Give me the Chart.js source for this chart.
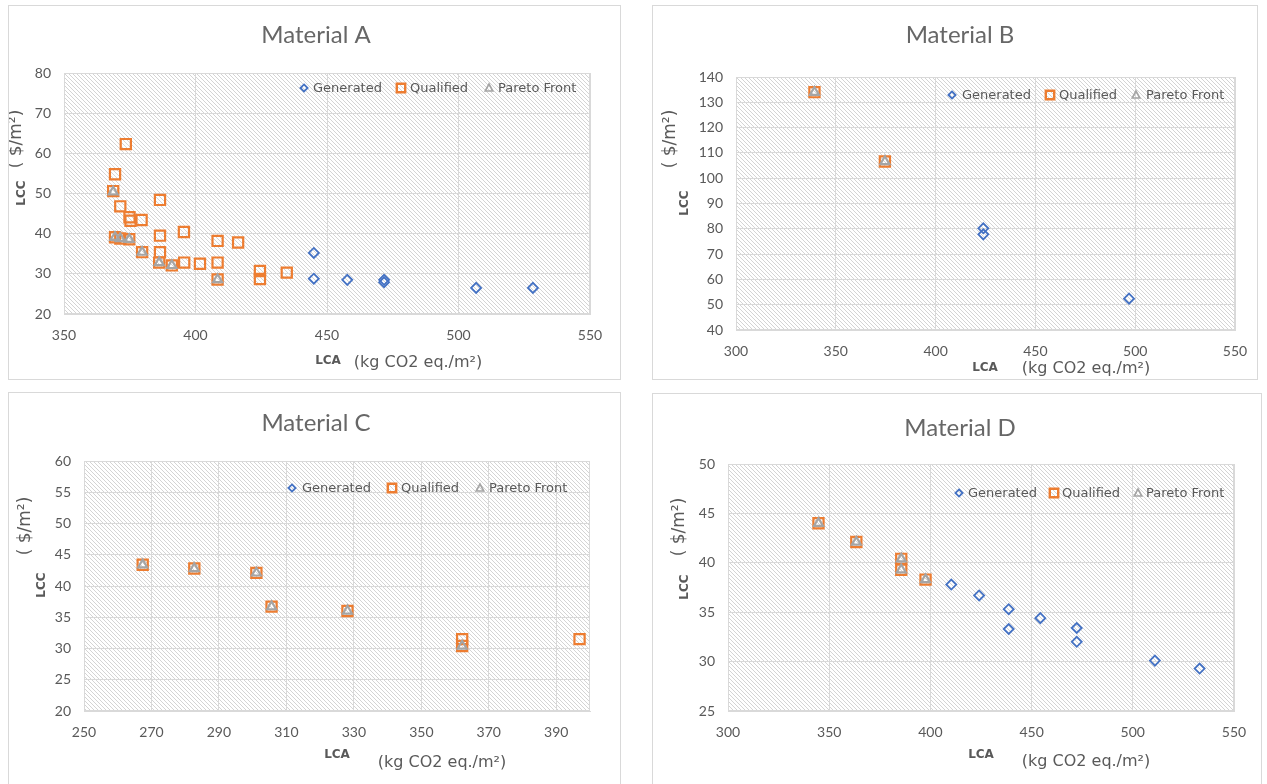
<!DOCTYPE html>
<html><head><meta charset="utf-8">
<script src="https://cdn.jsdelivr.net/npm/chart.js@4.4.1/dist/chart.umd.min.js"></script>
<style>
html,body{margin:0;padding:0;background:#fff;width:1267px;height:784px;overflow:hidden;}
.cv{position:absolute;}
.frame{position:absolute;border:1px solid #d9d9d9;box-sizing:border-box;pointer-events:none;}
</style></head><body>
<script>
// ---------- DATA ----------
// Material A
const aGenX = [445, 445, 457.7, 471.7, 471.7, 506.7, 528.3];
const aGenY = [35.2, 28.8, 28.5, 28.5, 27.9, 26.5, 26.5];
const aQualX = [373.5, 369.4, 368.7, 371.4, 374.9, 375.3, 379.5, 386.5, 369.4, 371.4, 374.8, 386.5, 395.6, 408.4, 416.2, 379.7, 386.5, 386.2, 391, 395.7, 401.7, 408.4, 408.4, 424.5, 424.5, 434.7];
const aQualY = [62.3, 54.8, 50.6, 46.8, 44.1, 43.2, 43.4, 48.4, 39.1, 38.8, 38.6, 39.5, 40.4, 38.2, 37.8, 35.4, 35.4, 32.8, 32.1, 32.8, 32.5, 32.8, 28.6, 30.7, 28.7, 30.3];
const aParX = [368.7, 369.4, 371.4, 374.8, 379.7, 386.2, 391, 408.4];
const aParY = [50.4, 39.1, 38.8, 38.6, 35.4, 32.8, 32.1, 28.6];
const aXTicks = [350, 400, 450, 500, 550];
const aYTicks = [20, 30, 40, 50, 60, 70, 80];
// Material B
const bGenX = [423.9, 423.9, 496.9];
const bGenY = [80.2, 77.8, 52.4];
const bQualX = [339.3, 374.6];
const bQualY = [134.0, 106.6];
const bParX = [339.3, 374.6];
const bParY = [134.0, 106.6];
const bXTicks = [300, 350, 400, 450, 500, 550];
const bYTicks = [40, 50, 60, 70, 80, 90, 100, 110, 120, 130, 140];
// Material C
const cGenX = [];
const cGenY = [];
const cQualX = [267.4, 282.7, 301.1, 305.6, 328.1, 362.1, 362.1, 396.9];
const cQualY = [43.4, 42.8, 42.1, 36.7, 36.0, 31.5, 30.4, 31.5];
const cParX = [267.4, 282.7, 301.1, 305.6, 328.1, 362.1];
const cParY = [43.4, 42.8, 42.1, 36.7, 36.0, 30.4];
const cXTicks = [250, 270, 290, 310, 330, 350, 370, 390];
const cYTicks = [20, 25, 30, 35, 40, 45, 50, 55, 60];
// Material D
const dGenX = [410.3, 424.1, 438.7, 438.7, 454.3, 472.3, 472.3, 510.9, 533.0];
const dGenY = [37.8, 36.7, 35.3, 33.3, 34.4, 33.4, 32.0, 30.1, 29.3];
const dQualX = [344.7, 363.4, 385.6, 385.6, 397.6];
const dQualY = [44.0, 42.1, 40.4, 39.3, 38.3];
const dParX = [344.7, 363.4, 385.6, 385.6, 397.6];
const dParY = [44.0, 42.1, 40.4, 39.3, 38.3];
const dXTicks = [300, 350, 400, 450, 500, 550];
const dYTicks = [25, 30, 35, 40, 45, 50];

const seriesNames = ['Generated', 'Qualified', 'Pareto Front'];
const titles = ['Material A', 'Material B', 'Material C', 'Material D'];
const xName = 'LCA', xUnit = '(kg CO2 eq./m\u00B2)';
const yName = 'LCC', yUnit = '( $/m\u00B2)';

// ---------- STYLE / LAYOUT ----------
const COL_GEN = '#4472c4', COL_QUAL = '#ed7d31', COL_PAR = '#a5a5a5';
const TXT = '#595959';
const YW = 40, XH = 30;

const hatchCanvas = document.createElement('canvas');
hatchCanvas.width = 4; hatchCanvas.height = 4;
(function(){
  const h = hatchCanvas.getContext('2d');
  h.fillStyle = '#ffffff'; h.fillRect(0,0,4,4);
  h.fillStyle = '#d4d4d4';
  for (let i = 0; i < 4; i++) h.fillRect(i, i, 1, 1);
})();

function zip(xs, ys){ return xs.map((x,i)=>({x:x, y:ys[i]})); }

function marker(ctx, style, x, y, color){
  ctx.save();
  ctx.strokeStyle = color; ctx.beginPath();
  if (style === 'diamond'){
    ctx.lineWidth = 1.8; const r = 3.6;
    ctx.moveTo(x, y-r); ctx.lineTo(x+r, y); ctx.lineTo(x, y+r); ctx.lineTo(x-r, y); ctx.closePath();
  } else if (style === 'square'){
    ctx.lineWidth = 2.4; const r = 4.2;
    ctx.rect(x-r, y-r, 2*r, 2*r);
  } else {
    ctx.lineWidth = 1.6; const r = 4;
    ctx.moveTo(x, y-r); ctx.lineTo(x+r*0.95, y+r*0.75); ctx.lineTo(x-r*0.95, y+r*0.75); ctx.closePath();
  }
  ctx.stroke();
  ctx.restore();
}

const decor = {
  id: 'decor',
  beforeDraw(chart){
    const ctx = chart.ctx, a = chart.chartArea;
    ctx.save();
    ctx.fillStyle = ctx.createPattern(hatchCanvas, 'repeat');
    ctx.fillRect(a.left, a.top, a.right - a.left, a.bottom - a.top);
    ctx.restore();
  },
  beforeDatasetsDraw(chart){
    const ctx = chart.ctx, a = chart.chartArea;
    ctx.save();
    ctx.strokeStyle = '#d9d9d9'; ctx.lineWidth = 1;
    ctx.strokeRect(Math.round(a.left)+0.5, Math.round(a.top)+0.5, Math.round(a.right-a.left)-1, Math.round(a.bottom-a.top)-1);
    ctx.restore();
  },
  afterDraw(chart){
    const p = chart.options.plugins.decor;
    const ctx = chart.ctx, ox = p.box.x, oy = p.box.y;
    ctx.save();
    // title
    ctx.fillStyle = '#676767';
    ctx.font = '24px Lato';
    ctx.textAlign = 'center'; ctx.textBaseline = 'middle';
    ctx.fillText(p.title, p.titlePos[0]-ox, p.titlePos[1]-oy);
    // x axis title
    ctx.fillStyle = TXT;
    ctx.font = 'bold 12px "DejaVu Sans"';
    ctx.fillText(xName, p.lca[0]-ox, p.lca[1]-oy);
    ctx.font = '16px "DejaVu Sans"';
    ctx.fillText(xUnit, p.lcaU[0]-ox, p.lcaU[1]-oy);
    // y axis title (rotated)
    ctx.save();
    ctx.translate(p.lcc[0]-ox, p.lcc[1]-oy); ctx.rotate(-Math.PI/2);
    ctx.font = 'bold 12px "DejaVu Sans"';
    ctx.fillText(yName, 0, 0);
    ctx.restore();
    ctx.save();
    ctx.translate(p.lccU[0]-ox, p.lccU[1]-oy); ctx.rotate(-Math.PI/2);
    ctx.font = '17px "DejaVu Sans"';
    ctx.fillText(yUnit, 0, 0);
    ctx.restore();
    // legend
    const styles = ['diamond', 'square', 'triangle'];
    const cols = [COL_GEN, COL_QUAL, COL_PAR];
    ctx.font = '13px "DejaVu Sans"';
    ctx.textAlign = 'left';
    for (let i = 0; i < 3; i++){
      const it = p.legend[i];
      marker(ctx, styles[i], it[0]-ox, p.legendY-oy, cols[i]);
      ctx.fillStyle = TXT;
      ctx.fillText(seriesNames[i], it[1]-ox, p.legendY+1-oy);
    }
    ctx.restore();
  }
};

function makeChart(p){
  const cv = document.createElement('canvas');
  cv.className = 'cv';
  cv.width = p.box.w; cv.height = p.box.h;
  cv.style.left = p.box.x + 'px'; cv.style.top = p.box.y + 'px';
  cv.style.width = p.box.w + 'px'; cv.style.height = p.box.h + 'px';
  document.body.appendChild(cv);
  const fr = document.createElement('div');
  fr.className = 'frame';
  fr.style.left = p.box.x + 'px'; fr.style.top = p.box.y + 'px';
  fr.style.width = p.box.w + 'px'; fr.style.height = p.box.h + 'px';
  document.body.appendChild(fr);

  const pad = {
    left: p.plot.l - p.box.x - YW,
    top: p.plot.t - p.box.y,
    right: p.box.x + p.box.w - p.plot.r,
    bottom: p.box.y + p.box.h - p.plot.b - XH
  };
  const tickFont = {family: 'Lato', size: 14};
  new Chart(cv, {
    type: 'scatter',
    data: { datasets: [
      {label: seriesNames[2], data: zip(p.parX, p.parY), pointStyle: 'triangle', pointRadius: 5.2,
       borderColor: COL_PAR, backgroundColor: 'rgba(255,255,255,0)', borderWidth: 2.2, order: 1},
      {label: seriesNames[1], data: zip(p.qualX, p.qualY), pointStyle: 'rect', pointRadius: 7.2,
       borderColor: COL_QUAL, backgroundColor: 'rgba(255,255,255,0)', borderWidth: 2.2, order: 2},
      {label: seriesNames[0], data: zip(p.genX, p.genY), pointStyle: 'rectRot', pointRadius: 5,
       borderColor: COL_GEN, backgroundColor: 'rgba(255,255,255,0)', borderWidth: 1.8, order: 3}
    ]},
    options: {
      responsive: false, animation: false, devicePixelRatio: 1, events: [],
      layout: {padding: pad},
      plugins: {legend: {display: false}, tooltip: {enabled: false}, title: {display: false}, decor: p},
      scales: {
        x: {
          type: 'linear', min: p.xMin, max: p.xMax,
          afterBuildTicks: s => { s.ticks = p.xTicks.map(v => ({value: v})); },
          afterFit: s => { s.height = XH; s.paddingLeft = 0; s.paddingRight = 0; },
          grid: {color: '#d9d9d9', lineWidth: 1, drawTicks: false},
          border: {display: true, color: '#d9d9d9'},
          ticks: {padding: 13, font: tickFont, color: TXT, maxRotation: 0, autoSkip: false}
        },
        y: {
          type: 'linear', min: p.yMin, max: p.yMax,
          afterBuildTicks: s => { s.ticks = p.yTicks.map(v => ({value: v})); },
          afterFit: s => { s.width = YW; s.paddingTop = 0; s.paddingBottom = 0; },
          grid: {color: '#d9d9d9', lineWidth: 1, drawTicks: false},
          border: {display: true, color: '#d9d9d9'},
          ticks: {padding: 13, font: tickFont, color: TXT, autoSkip: false}
        }
      }
    },
    plugins: [decor]
  });
}

const panels = [
  {title: titles[0], box: {x: 8, y: 5, w: 613, h: 375}, plot: {l: 64, t: 73, r: 590, b: 314},
   xMin: 350, xMax: 550, yMin: 20, yMax: 80, xTicks: aXTicks, yTicks: aYTicks,
   genX: aGenX, genY: aGenY, qualX: aQualX, qualY: aQualY, parX: aParX, parY: aParY,
   titlePos: [316, 35], legendY: 88, legend: [[304, 313], [401, 410], [489, 498]],
   lcc: [22, 193], lccU: [17, 139], lca: [328, 361], lcaU: [418, 363]},
  {title: titles[1], box: {x: 652, y: 5, w: 606, h: 375}, plot: {l: 736, t: 77, r: 1235, b: 330},
   xMin: 300, xMax: 550, yMin: 40, yMax: 140, xTicks: bXTicks, yTicks: bYTicks,
   genX: bGenX, genY: bGenY, qualX: bQualX, qualY: bQualY, parX: bParX, parY: bParY,
   titlePos: [960, 35], legendY: 95, legend: [[952, 962], [1050, 1059], [1136, 1146]],
   lcc: [685, 203], lccU: [671, 139], lca: [985, 368], lcaU: [1086, 369]},
  {title: titles[2], box: {x: 8, y: 392, w: 613, h: 400}, plot: {l: 84, t: 461, r: 590, b: 711},
   xMin: 250, xMax: 400, yMin: 20, yMax: 60, xTicks: cXTicks, yTicks: cYTicks,
   genX: cGenX, genY: cGenY, qualX: cQualX, qualY: cQualY, parX: cParX, parY: cParY,
   titlePos: [316, 423], legendY: 488, legend: [[292, 302], [392, 401], [480, 489]],
   lcc: [42, 585], lccU: [26, 526], lca: [337, 755], lcaU: [442, 763]},
  {title: titles[3], box: {x: 652, y: 393, w: 610, h: 400}, plot: {l: 728, t: 464, r: 1234, b: 711},
   xMin: 300, xMax: 550, yMin: 25, yMax: 50, xTicks: dXTicks, yTicks: dYTicks,
   genX: dGenX, genY: dGenY, qualX: dQualX, qualY: dQualY, parX: dParX, parY: dParY,
   titlePos: [960, 428], legendY: 493, legend: [[959, 968], [1054, 1062], [1138, 1146]],
   lcc: [685, 587], lccU: [680, 527], lca: [981, 755], lcaU: [1086, 762]}
];
panels.forEach(makeChart);
</script>
</body></html>
